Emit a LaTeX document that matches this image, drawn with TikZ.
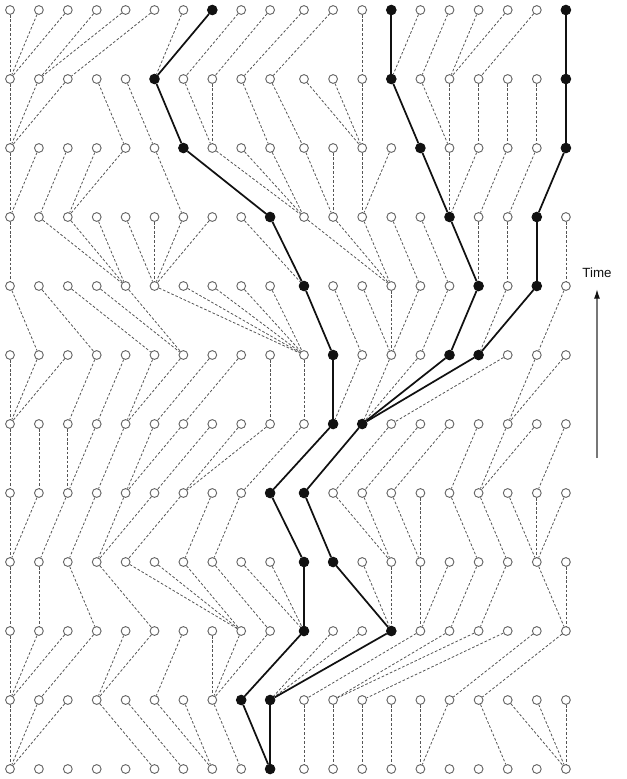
\documentclass[tikz,border=0pt]{standalone}
\usepackage{fontspec}
\setsansfont{Liberation Sans}
\usetikzlibrary{arrows.meta}
\definecolor{Ink}{HTML}{111111}
\definecolor{Kin}{HTML}{555555}
\tikzset{
  indiv/.style={circle,minimum size=6.6pt,inner sep=0pt,line width=0.7pt,draw=Kin!90,fill=white},
  ancestor/.style={indiv,minimum size=7.2pt,draw=Ink,fill=Ink},
  kinship/.style={draw=Kin,line width=0.6pt,dash pattern=on 2pt off 1.4pt},
  lineage/.style={draw=Ink,line width=1.3pt},
  timearrow/.style={-{Latex[length=7pt,width=4.5pt,color=Ink]},draw=Kin!80,line width=0.9pt},
}
% parent of each individual, read from the row above to the row below
\expandafter\def\csname par0\endcsname{0,0,0,1,1,2,5,5,6,7,8,9,12,13,13,14,15,15,16,19}
\expandafter\def\csname par1\endcsname{0,0,0,4,5,6,7,7,9,10,12,12,12,14,15,15,16,17,18,19}
\expandafter\def\csname par2\endcsname{0,0,1,2,2,6,9,10,10,10,11,11,12,12,15,15,15,16,17,18}
\expandafter\def\csname par3\endcsname{0,4,4,4,5,5,5,5,10,10,13,13,13,14,15,16,16,17,18,19}
\expandafter\def\csname par4\endcsname{1,3,5,6,6,10,10,10,10,10,11,12,13,13,13,14,15,16,16,18}
\expandafter\def\csname par5\endcsname{0,0,0,2,3,4,4,5,6,9,10,11,11,12,12,12,12,13,17,17}
\expandafter\def\csname par6\endcsname{0,1,2,2,3,4,4,5,6,6,8,9,10,11,12,13,15,16,16,18}
\expandafter\def\csname par7\endcsname{0,0,1,2,3,3,4,6,7,10,11,13,13,14,14,16,17,18,18,18}
\expandafter\def\csname par8\endcsname{0,1,3,5,8,8,8,9,10,10,10,13,13,13,14,14,15,16,19,19}
\expandafter\def\csname par9\endcsname{0,0,0,1,3,3,5,7,7,7,8,9,9,9,10,11,11,12,15,16}
\expandafter\def\csname par10\endcsname{0,0,0,5,6,7,7,8,9,9,10,11,12,13,14,14,17,19,19,19}

\begin{document}
\begin{tikzpicture}[x=0.75pt,y=-0.75pt]
  \useasboundingbox (0,0) rectangle (627,779);
  % ancestral lines
  \foreach \r/\c in {0/7,0/13,0/19,1/5,1/13,1/19,2/6,2/14,2/19,3/9,3/15,3/18,
      4/10,4/16,4/18,5/11,5/15,5/16,6/11,6/12,7/9,7/10,8/10,8/11,9/10,9/13,10/8,10/9,11/9}
    {\expandafter\gdef\csname on-\r-\c\endcsname{}}

  % individuals
  \foreach \r in {0,...,11}{
    \foreach \c in {0,...,19}{
      \pgfmathsetmacro\xx{\c<10 ? 10+28.9*\c : 304+29.1*(\c-10)}
      \ifcsname on-\r-\c\endcsname\def\kind{ancestor}\else\def\kind{indiv}\fi
      \node[\kind] (n-\r-\c) at (\xx,10+69*\r) {};
    }
  }

  % links to parents
  \foreach \r in {0,...,10}{
    \pgfmathtruncatemacro\rr{\r+1}
    \edef\plist{\csname par\r\endcsname}
    \foreach \p [count=\cc from 0] in \plist{
      \ifcsname on-\r-\cc\endcsname\def\kind{lineage}\else\def\kind{kinship}\fi
      \draw[\kind] (n-\r-\cc) -- (n-\rr-\p);
    }
  }

  \node[font=\sffamily\fontsize{10}{12}\selectfont,text=Ink] (timelbl) at (597,273) {Time};
  \coordinate (timebase) at (597,458);
  \draw[timearrow] (timebase) -- ([yshift=-5pt]timelbl.south);
\end{tikzpicture}
\end{document}
